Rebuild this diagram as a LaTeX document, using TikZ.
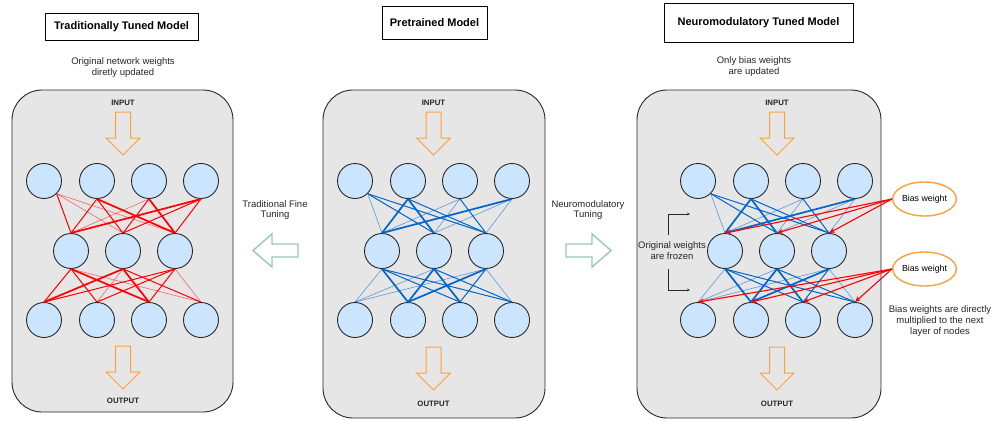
\documentclass[tikz,border=0pt]{standalone}
\usepackage{fontspec}
\setmainfont{Liberation Sans}
\usetikzlibrary{shapes.geometric,arrows.meta}
\definecolor{nodeblue}{RGB}{204,229,255}
\definecolor{panelgrey}{RGB}{230,230,230}
\definecolor{darkline}{RGB}{40,40,40}
\definecolor{floworange}{RGB}{255,160,60}
\definecolor{tunegreen}{RGB}{154,199,191}
\definecolor{wblue}{RGB}{0,102,204}
\definecolor{wred}{RGB}{255,0,0}
\tikzset{%
    neuron/.style={circle,draw=darkline,fill=nodeblue,line width=0.9pt,
        minimum size=35pt,inner sep=0pt},
    panel/.style={draw=darkline,fill=panelgrey,line width=0.9pt,rounded corners=30pt},
    title/.style={draw=black,line width=0.9pt,inner sep=0pt,
        font=\fontsize{11}{13}\selectfont\bfseries},
    note/.style={align=center,text=black!85,font=\fontsize{9.5}{10.8}\selectfont},
    io/.style={font=\fontsize{7.8}{9}\selectfont\bfseries,text=black!85},
    flow/.style={draw=floworange,line width=1pt,line join=miter},
    tune/.style={draw=tunegreen,line width=1.4pt,fill=white},
    rlo/.style={wred,line width=0.6pt,opacity=0.55},
    rmd/.style={wred,line width=1pt},
    rhi/.style={wred,line width=1.7pt},
    blo/.style={wblue,line width=0.6pt,opacity=0.6},
    bmd/.style={wblue,line width=1pt},
    bhi/.style={wblue,line width=1.7pt},
    biasnode/.style={ellipse,draw=floworange,line width=1.4pt,fill=white,
        minimum width=51pt,minimum height=34pt,inner sep=0pt,
        font=\fontsize{8.8}{10}\selectfont},
    bias/.style={wred,line width=1.1pt,-{Stealth[length=6pt,width=5pt]}},
    brk/.style={darkline,line width=0.6pt,-{Stealth[length=3pt,width=2.5pt]}}
}
\begin{document}
\begin{tikzpicture}[x=1pt,y=-1pt]
    \useasboundingbox[fill=white] (0,0) rectangle (1000,420);
%-----------------------------------------------
    \node[title,minimum width=153pt,minimum height=27pt] (ttitle) at (121.5,26.5) {Traditionally Tuned Model};
    \node[title,minimum width=105pt,minimum height=33pt] (ptitle) at (434.5,23) {Pretrained Model};
    \node[title,minimum width=189pt,minimum height=39pt] (ntitle) at (758.5,22.5) {Neuromodulatory Tuned Model};
    \node[note] (tsub) at (123,67.5) {Original network weights\\diretly updated};
    \node[note] (nsub) at (754,66.5) {Only bias weights\\are updated};
%-----------------------------------------------
    \draw[panel] (12,90) rectangle (233,412);
    \draw[panel] (323,90) rectangle (545,418);
    \draw[panel] (637,90) rectangle (881,418);
%-----------------------------------------------
    \node[io] (tin) at (123,103) {INPUT};
    \node[io] (tout) at (123,401) {OUTPUT};
    \node[io] (pin) at (433.5,103) {INPUT};
    \node[io] (pout) at (433.5,404) {OUTPUT};
    \node[io] (nin) at (777,103) {INPUT};
    \node[io] (nout) at (777,404) {OUTPUT};
    \draw[flow] (115.5,112) -- ++(15,0) -- ++(0,26) -- ++(9.5,0) -- ++(-17,17) -- ++(-17,-17) -- ++(9.5,0) -- cycle;
    \draw[flow] (115.5,346) -- ++(15,0) -- ++(0,26) -- ++(9.5,0) -- ++(-17,17) -- ++(-17,-17) -- ++(9.5,0) -- cycle;
    \draw[flow] (426,112) -- ++(15,0) -- ++(0,26) -- ++(9.5,0) -- ++(-17,17) -- ++(-17,-17) -- ++(9.5,0) -- cycle;
    \draw[flow] (426,347) -- ++(15,0) -- ++(0,26) -- ++(9.5,0) -- ++(-17,17) -- ++(-17,-17) -- ++(9.5,0) -- cycle;
    \draw[flow] (769.5,112) -- ++(15,0) -- ++(0,26) -- ++(9.5,0) -- ++(-17,17) -- ++(-17,-17) -- ++(9.5,0) -- cycle;
    \draw[flow] (769.5,347) -- ++(15,0) -- ++(0,26) -- ++(9.5,0) -- ++(-17,17) -- ++(-17,-17) -- ++(9.5,0) -- cycle;
%-----------------------------------------------
    \node[note] (tlab) at (275,210) {Traditional Fine\\Tuning};
    \node[note] (nlab) at (588,210) {Neuromodulatory\\Tuning};
    \draw[tune] (298,244) -- (272,244) -- (272,234) -- (253,250.5) -- (272,267) -- (272,257) -- (298,257) -- cycle;
    \draw[tune] (566,244) -- (592,244) -- (592,234) -- (611,250.5) -- (592,267) -- (592,257) -- (566,257) -- cycle;
%-----------------------------------------------
    \node[neuron] (tt1) at (44,181) {};
    \node[neuron] (tt2) at (97,181) {};
    \node[neuron] (tt3) at (149,181) {};
    \node[neuron] (tt4) at (201,181) {};
    \node[neuron] (tm1) at (71,251) {};
    \node[neuron] (tm2) at (123,251) {};
    \node[neuron] (tm3) at (175,251) {};
    \node[neuron] (tb1) at (44,320) {};
    \node[neuron] (tb2) at (97,320) {};
    \node[neuron] (tb3) at (149,320) {};
    \node[neuron] (tb4) at (201,320) {};
%-----------------------------------------------
    \node[neuron] (pt1) at (355,181) {};
    \node[neuron] (pt2) at (408,181) {};
    \node[neuron] (pt3) at (460,181) {};
    \node[neuron] (pt4) at (512,181) {};
    \node[neuron] (pm1) at (382,251) {};
    \node[neuron] (pm2) at (434,251) {};
    \node[neuron] (pm3) at (486,251) {};
    \node[neuron] (pb1) at (355,320) {};
    \node[neuron] (pb2) at (408,320) {};
    \node[neuron] (pb3) at (460,320) {};
    \node[neuron] (pb4) at (512,320) {};
%-----------------------------------------------
    \node[neuron] (nt1) at (698,181) {};
    \node[neuron] (nt2) at (751,181) {};
    \node[neuron] (nt3) at (803,181) {};
    \node[neuron] (nt4) at (855,181) {};
    \node[neuron] (nm1) at (725,251) {};
    \node[neuron] (nm2) at (777,251) {};
    \node[neuron] (nm3) at (829,251) {};
    \node[neuron] (nb1) at (698,320) {};
    \node[neuron] (nb2) at (751,320) {};
    \node[neuron] (nb3) at (803,320) {};
    \node[neuron] (nb4) at (855,320) {};
%-----------------------------------------------
    \draw[rmd] (tt1.south east) -- (tm1.north);
    \draw[rlo] (tt1.south east) -- (tm2.north);
    \draw[rlo] (tt1.south east) -- (tm3.north);
    \draw[rmd] (tt2.south) -- (tm1.north);
    \draw[rmd] (tt2.south) -- (tm2.north);
    \draw[rhi] (tt2.south) -- (tm3.north);
    \draw[rlo] (tt3.south) -- (tm1.north);
    \draw[rmd] (tt3.south) -- (tm2.north);
    \draw[rhi] (tt3.south) -- (tm3.north);
    \draw[rhi] (tt4.south) -- (tm1.north);
    \draw[rmd] (tt4.south) -- (tm2.north);
    \draw[rmd] (tt4.south) -- (tm3.north);
    \draw[rmd] (tm1.south) -- (tb1.north);
    \draw[rmd] (tm1.south) -- (tb2.north);
    \draw[rhi] (tm1.south) -- (tb3.north);
    \draw[rlo] (tm1.south) -- (tb4.north);
    \draw[rhi] (tm2.south) -- (tb1.north);
    \draw[rlo] (tm2.south) -- (tb2.north);
    \draw[rhi] (tm2.south) -- (tb3.north);
    \draw[rmd] (tm2.south) -- (tb4.north);
    \draw[rmd] (tm3.south) -- (tb1.north);
    \draw[rmd] (tm3.south) -- (tb2.north);
    \draw[rmd] (tm3.south) -- (tb3.north);
    \draw[rlo] (tm3.south) -- (tb4.north);
%-----------------------------------------------
    \draw[blo] (pt1.south east) -- (pm1.north);
    \draw[bmd] (pt1.south east) -- (pm2.north);
    \draw[bmd] (pt1.south east) -- (pm3.north);
    \draw[bhi] (pt2.south) -- (pm1.north);
    \draw[bhi] (pt2.south) -- (pm2.north);
    \draw[bmd] (pt2.south) -- (pm3.north);
    \draw[blo] (pt3.south) -- (pm1.north);
    \draw[blo] (pt3.south) -- (pm2.north);
    \draw[bmd] (pt3.south) -- (pm3.north);
    \draw[bhi] (pt4.south) -- (pm1.north);
    \draw[blo] (pt4.south) -- (pm2.north);
    \draw[blo] (pt4.south) -- (pm3.north);
    \draw[blo] (pm1.south) -- (pb1.north);
    \draw[bhi] (pm1.south) -- (pb2.north);
    \draw[bmd] (pm1.south) -- (pb3.north);
    \draw[bmd] (pm1.south) -- (pb4.north);
    \draw[blo] (pm2.south) -- (pb1.north);
    \draw[bhi] (pm2.south) -- (pb2.north);
    \draw[bhi] (pm2.south) -- (pb3.north);
    \draw[bmd] (pm2.south) -- (pb4.north);
    \draw[blo] (pm3.south) -- (pb1.north);
    \draw[bhi] (pm3.south) -- (pb2.north);
    \draw[bmd] (pm3.south) -- (pb3.north);
    \draw[blo] (pm3.south) -- (pb4.north);
%-----------------------------------------------
    \draw[blo] (nt1.south east) -- (nm1.north);
    \draw[bmd] (nt1.south east) -- (nm2.north);
    \draw[bmd] (nt1.south east) -- (nm3.north);
    \draw[bhi] (nt2.south) -- (nm1.north);
    \draw[bhi] (nt2.south) -- (nm2.north);
    \draw[bmd] (nt2.south) -- (nm3.north);
    \draw[blo] (nt3.south) -- (nm1.north);
    \draw[blo] (nt3.south) -- (nm2.north);
    \draw[bmd] (nt3.south) -- (nm3.north);
    \draw[bhi] (nt4.south) -- (nm1.north);
    \draw[blo] (nt4.south) -- (nm2.north);
    \draw[blo] (nt4.south) -- (nm3.north);
    \draw[blo] (nm1.south) -- (nb1.north);
    \draw[bhi] (nm1.south) -- (nb2.north);
    \draw[bmd] (nm1.south) -- (nb3.north);
    \draw[bmd] (nm1.south) -- (nb4.north);
    \draw[blo] (nm2.south) -- (nb1.north);
    \draw[bhi] (nm2.south) -- (nb2.north);
    \draw[bhi] (nm2.south) -- (nb3.north);
    \draw[bmd] (nm2.south) -- (nb4.north);
    \draw[blo] (nm3.south) -- (nb1.north);
    \draw[bhi] (nm3.south) -- (nb2.north);
    \draw[bmd] (nm3.south) -- (nb3.north);
    \draw[blo] (nm3.south) -- (nb4.north);
%-----------------------------------------------
    \node[biasnode] (bias1) at (924.5,199) {Bias weight};
    \node[biasnode] (bias2) at (924.5,269) {Bias weight};
    \draw[bias] (bias1.west) -- (nm1.north);
    \draw[bias] (bias1.west) -- (nm2.north);
    \draw[bias] (bias1.west) -- (nm3.north);
    \draw[bias] (bias2.west) -- (nb1.north);
    \draw[bias] (bias2.west) -- (nb2.north);
    \draw[bias] (bias2.west) -- (nb3.north);
    \draw[bias] (bias2.west) -- (nb4.north);
    \node[note] (biasnote) at (940,321) {Bias weights are directly\\multiplied to the next\\layer of nodes};
%-----------------------------------------------
    \node[note] (frozen) at (672,251) {Original weights\\are frozen};
    \coordinate (frzA) at (668,235);
    \coordinate (frzB) at (690,214);
    \coordinate (frzC) at (668,269);
    \coordinate (frzD) at (690,290);
    \draw[brk] (frzA) |- (frzB);
    \draw[brk] (frzC) |- (frzD);
\end{tikzpicture}
\end{document}
